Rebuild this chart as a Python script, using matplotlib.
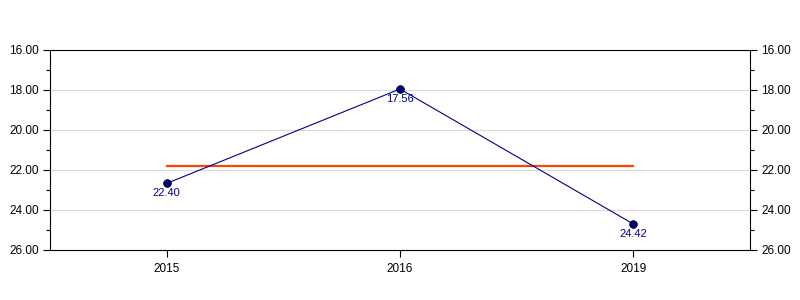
import matplotlib
matplotlib.use("Agg")
import matplotlib.pyplot as plt
from matplotlib.ticker import MultipleLocator, FormatStrFormatter

plt.rcParams['font.family'] = ['Liberation Sans', 'DejaVu Sans']

categories = ["2015", "2016", "2019"]
plotted_values = [22.67, 17.95, 24.70]
label_values = [22.40, 17.56, 24.42]
average_value = 21.78

fig = plt.figure(figsize=(8, 3), dpi=100)
ax = fig.add_axes([0.0625, 1 - 250 / 300, 0.875, 200 / 300])

x = list(range(len(categories)))
ax.plot(x, plotted_values, color="#00008B", lw=0.8, marker="o", ms=5.5,
        markerfacecolor="#000080", markeredgecolor="#000000", mew=0.6, zorder=3)
ax.plot([x[0], x[-1]], [average_value, average_value], color="#FF4500", lw=1.6, zorder=2)

for xi, yv, lv in zip(x, plotted_values, label_values):
    ax.annotate(f"{lv:.2f}", (xi, yv), xytext=(0, -3.5), textcoords="offset points",
                ha="center", va="top", fontsize=8, color="#00008B")

ax.set_xlim(-0.5, len(categories) - 0.5)
ax.set_ylim(26, 16)
ax.set_xticks(x)
ax.set_xticklabels(categories)
ax.yaxis.set_major_locator(MultipleLocator(2))
ax.yaxis.set_minor_locator(MultipleLocator(1))
ax.yaxis.set_major_formatter(FormatStrFormatter("%.2f"))
ax.tick_params(axis="y", which="major", length=5, width=0.8, labelsize=8.5, pad=3,
               left=True, right=True, labelleft=True, labelright=True, direction="out")
ax.tick_params(axis="y", which="minor", length=3, width=0.8, left=True, right=True)
ax.tick_params(axis="x", length=5, width=0.8, labelsize=8.5, pad=4, direction="out")
ax.grid(axis="y", which="major", color="#D9D9D9", lw=0.8)
ax.set_axisbelow(True)
for s in ax.spines.values():
    s.set_linewidth(0.8)

fig.savefig("out.png", dpi=100)
